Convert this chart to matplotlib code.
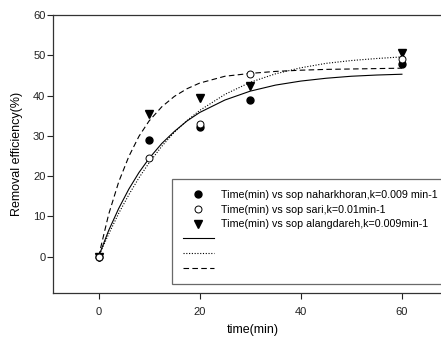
import numpy as np
import matplotlib
matplotlib.use('Agg')
import matplotlib.pyplot as plt

plt.rcParams['font.family'] = ['Liberation Sans', 'DejaVu Sans']

# measured points
t_pts = [0, 10, 20, 30, 60]
y_nahar = [0, 29.0, 32.2, 39.0, 47.8]
y_sari = [0, 24.5, 33.0, 45.4, 49.2]
y_alang = [0, 35.5, 39.3, 42.4, 50.6]

# fitted curves
t_fit = [0, 2, 4, 6, 8, 10, 12.5, 15, 17.5, 20, 25, 30, 35, 40, 45, 50, 55, 60]
fit_nahar = [0, 6.5, 12.0, 16.8, 20.9, 24.4, 28.1, 31.1, 33.7, 35.8, 38.9, 41.1,
             42.6, 43.6, 44.3, 44.8, 45.1, 45.3]
fit_sari = [0, 5.6, 10.8, 15.4, 19.6, 23.3, 27.4, 30.9, 33.8, 36.3, 40.3, 43.3,
            45.4, 46.9, 48.0, 48.7, 49.2, 49.6]
fit_alang = [0, 10.5, 18.6, 24.9, 29.9, 33.7, 37.2, 39.8, 41.7, 43.1, 44.8, 45.5,
             46.0, 46.3, 46.5, 46.6, 46.7, 46.8]

labels = ['Time(min) vs sop naharkhoran,k=0.009 min-1',
          'Time(min) vs sop sari,k=0.01min-1',
          'Time(min) vs sop alangdareh,k=0.009min-1']

#%%
fig = plt.figure(figsize=(4.41, 3.39), dpi=100)
W, H = 441, 339
ax = fig.add_axes([53 / W, 1 - 293 / H, (452.5 - 53) / W, (293 - 15) / H])

p1, = ax.plot(t_pts, y_nahar, 'o', color='k', ms=5, zorder=3, ls='none')
p2, = ax.plot(t_pts, y_sari, 'o', mfc='white', mec='k', mew=0.7, ms=5, zorder=4, ls='none')
p3, = ax.plot(t_pts, y_alang, 'v', color='k', ms=5.5, zorder=3, ls='none')

l1, = ax.plot(t_fit, fit_nahar, color='k', ls='-', lw=0.8)
l2, = ax.plot(t_fit, fit_sari, color='k', ls=(0, (1, 1.5)), lw=0.8)
l3, = ax.plot(t_fit, fit_alang, color='k', ls=(0, (5, 3)), lw=0.8)

ax.set_xlim(-9, 70)
ax.set_ylim(-9, 60)
ax.set_xticks([0, 20, 40, 60])
ax.set_yticks(np.arange(0, 61, 10))
ax.tick_params(direction='out', length=4, width=0.8, labelsize=8, colors='#222222')
ax.tick_params(axis='x', pad=6)
ax.tick_params(axis='y', pad=1.5)
for s in ax.spines.values():
    s.set_linewidth(0.9)
    s.set_color('#333333')

ax.set_xlabel('time(min)', fontsize=9, labelpad=5)
ax.set_ylabel('Removal efficiency(%)', fontsize=9, labelpad=7)

leg = fig.legend([p1, p2, p3, l1, l2, l3], labels + ['', '', ''],
                 loc='upper left', bbox_to_anchor=(172 / W, 1 - 179 / H),
                 fontsize=7.7, frameon=True, fancybox=False, handlelength=2.9,
                 handletextpad=0.65, labelspacing=0.45, borderpad=1.0,
                 borderaxespad=0)
leg.get_frame().set_edgecolor('#444444')
leg.get_frame().set_linewidth(0.9)

fig.savefig('out.png', dpi=100)
